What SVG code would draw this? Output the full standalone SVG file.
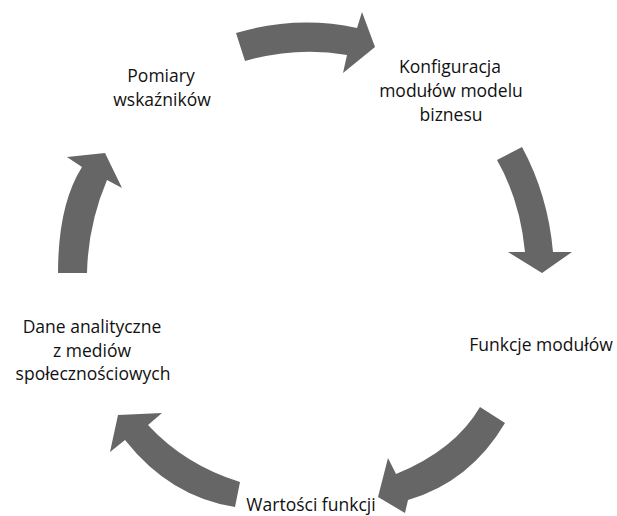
<svg xmlns="http://www.w3.org/2000/svg" width="617" height="516" viewBox="0 0 617 516">
<style>
.arr{fill:#666666;stroke:none}
.lbl{font-family:"Open Sans","Liberation Sans",sans-serif;font-size:17.5px;fill:#111111;text-anchor:middle}
</style>
<rect width="617" height="516" fill="#ffffff"/>
<g id="connectors">
<path class="arr" d="M236,33 Q297,15 357,28 L362,12 L375,47 L343,73 L347,55 Q297,46 245,61 Z"/>
<path class="arr" d="M497,160 L522,147 Q548,195 553,252 L572,252 L542,273 L508,252 L525,252 Q520,200 497,160 Z"/>
<path class="arr" d="M480,407 L505,423 Q470,482 408,500 L405,513 L378,497 L388,458 L396,474 Q455,450 480,407 Z"/>
<path class="arr" d="M240,482 Q185,465 148,425 L162,413 L118,415 L110,452 L125,440 Q170,497 235,507 Z"/>
<path class="arr" d="M58,273 Q58,205 82,167 L67,157 L105,153 L122,188 L107,180 Q88,225 87,273 Z"/>
</g>
<g id="node-pomiary"><text class="lbl" x="161" y="82">Pomiary</text><text class="lbl" x="162" y="106">wskaźników</text></g>
<g id="node-konfiguracja"><text class="lbl" x="450" y="73">Konfiguracja</text><text class="lbl" x="451" y="97">modułów modelu</text><text class="lbl" x="451" y="121">biznesu</text></g>
<g id="node-funkcje"><text class="lbl" x="541" y="351">Funkcje modułów</text></g>
<g id="node-wartosci"><text class="lbl" x="311" y="511">Wartości funkcji</text></g>
<g id="node-dane"><text class="lbl" x="92" y="333">Dane analityczne</text><text class="lbl" x="92" y="357">z mediów</text><text class="lbl" x="93" y="380">społecznościowych</text></g>
</svg>
